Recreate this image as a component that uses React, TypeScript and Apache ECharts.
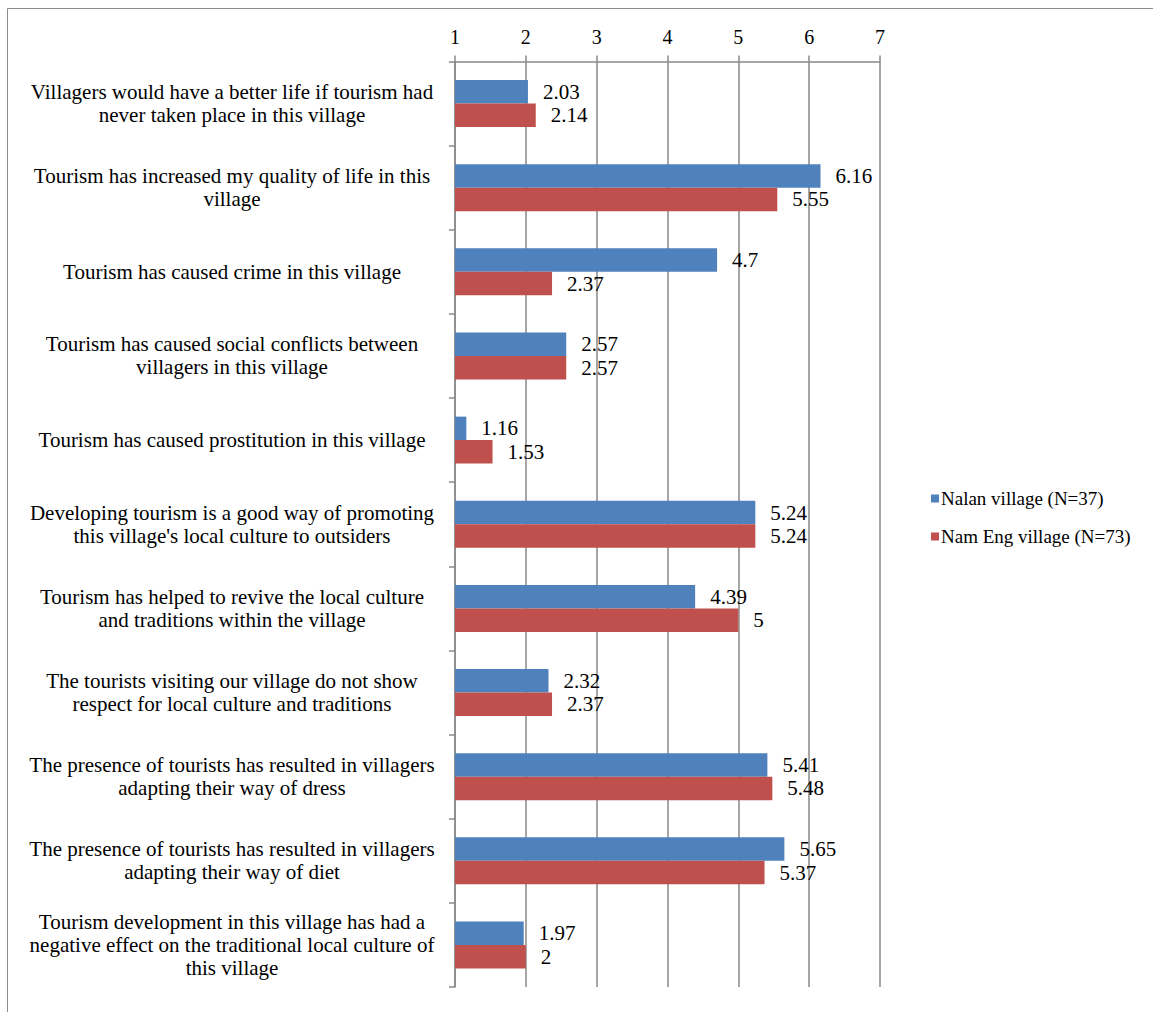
import React, { useEffect, useRef } from "react";
import * as echarts from "echarts";

const categories = [
  "Villagers would have a better life if tourism had\nnever taken place in this village",
  "Tourism has increased my quality of life in this\nvillage",
  "Tourism has caused crime in this village",
  "Tourism has caused social conflicts between\nvillagers in this village",
  "Tourism has caused prostitution in this village",
  "Developing tourism is a good way of promoting\nthis village's local culture to outsiders",
  "Tourism has helped to revive the local culture\nand traditions within the village",
  "The tourists visiting our village do not show\nrespect for local culture and traditions",
  "The presence of tourists has resulted in villagers\nadapting their way of dress",
  "The presence of tourists has resulted in villagers\nadapting their way of diet",
  "Tourism development in this village has had a\nnegative effect on the traditional local culture of\nthis village",
];
const nalan = [2.03, 6.16, 4.7, 2.57, 1.16, 5.24, 4.39, 2.32, 5.41, 5.65, 1.97];
const namEng = [2.14, 5.55, 2.37, 2.57, 1.53, 5.24, 5, 2.37, 5.48, 5.37, 2];
const seriesNames = ["Nalan village (N=37)", "Nam Eng village (N=73)"];

const FONT = "'Liberation Serif', 'Times New Roman', serif";

export default function App() {
  const ref = useRef<HTMLDivElement>(null);
  useEffect(() => {
    const chart = echarts.init(ref.current!, null, { renderer: "svg" });
    const label = {
      show: true,
      position: "right",
      distance: 15,
      color: "#000",
      fontFamily: FONT,
      fontSize: 21,
    };
    chart.setOption({
      animation: false,
      backgroundColor: "#fff",
      graphic: [
        {
          type: "rect",
          shape: { x: 7.5, y: 8.5, width: 1300, height: 1100 },
          style: { fill: "none", stroke: "#8c8c8c", lineWidth: 1 },
          silent: true,
        },
      ],
      legend: {
        orient: "vertical",
        left: 926,
        top: 484,
        itemWidth: 8,
        itemHeight: 8,
        itemGap: 19,
        icon: "rect",
        textStyle: { fontFamily: FONT, fontSize: 19, color: "#000", padding: [0, 0, 0, -3] },
        data: seriesNames,
      },
      grid: { left: 455, top: 61.5, right: 273, bottom: 25, containLabel: false },
      xAxis: {
        type: "value",
        position: "top",
        min: 1,
        max: 7,
        interval: 1,
        axisLine: { show: true, lineStyle: { color: "#888", width: 1.5 } },
        axisTick: { show: true, length: 6, lineStyle: { color: "#888", width: 1.5 } },
        splitLine: { show: true, lineStyle: { color: "#888", width: 1.5 } },
        axisLabel: { color: "#000", fontFamily: FONT, fontSize: 20, margin: 15 },
      },
      yAxis: {
        type: "category",
        inverse: true,
        data: categories,
        axisLine: { show: true, lineStyle: { color: "#888", width: 1.5 } },
        axisTick: { show: true, length: 6, lineStyle: { color: "#888", width: 1.5 } },
        axisLabel: {
          color: "#000",
          fontFamily: FONT,
          fontSize: 21,
          lineHeight: 23,
          align: "center",
          margin: 223,
        },
      },
      series: [
        {
          name: seriesNames[0],
          type: "bar",
          data: nalan,
          barWidth: 23.5,
          barGap: "0%",
          itemStyle: { color: "#4F81BD" },
          label,
        },
        {
          name: seriesNames[1],
          type: "bar",
          data: namEng,
          barWidth: 23.5,
          barGap: "0%",
          itemStyle: { color: "#C0504D" },
          label,
        },
      ],
    });
    return () => chart.dispose();
  }, []);
  return (
    <div
      ref={ref}
      style={{ position: "fixed", left: 0, top: 0, width: 1153, height: 1012 }}
    />
  );
}
